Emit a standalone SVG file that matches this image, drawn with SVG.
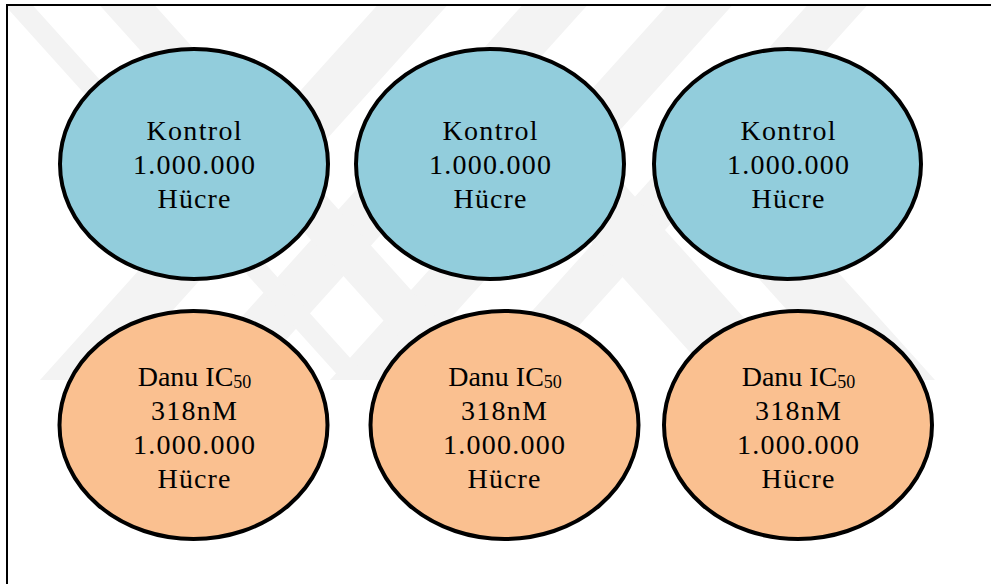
<svg xmlns="http://www.w3.org/2000/svg" width="991" height="584" viewBox="0 0 991 584">
  <style>
    .wm { fill: #f3f3f3; }
    .ctrl { fill: #92CDDC; stroke: #000; stroke-width: 4; }
    .danu { fill: #FAC090; stroke: #000; stroke-width: 4; }
    .lbl { font-family: "Liberation Serif", "DejaVu Serif", serif; font-size: 28px; fill: #000; text-anchor: middle; }
    .sub { font-size: 18px; }
  </style>
  <defs>
    <clipPath id="wmclip"><rect x="7" y="5" width="984" height="375"/></clipPath>
  </defs>
  <rect x="0" y="0" width="991" height="584" fill="#fff"/>
  <g id="watermark" clip-path="url(#wmclip)">
    <polygon class="wm" points="40,380 110,380 452,0 382,0"/>
    <polygon class="wm" points="185,380 250,380 592,0 527,0"/>
    <polygon class="wm" points="330,380 395,380 737,0 672,0"/>
    <polygon class="wm" points="470,380 530,380 872,0 812,0"/>
    <polygon class="wm" points="0,0 28,0 370,380 342,380"/>
    <polygon class="wm" points="95,0 150,0 492,380 437,380"/>
    <polygon class="wm" points="535,180 620,180 800,380 715,380"/>
    <polygon class="wm" points="670,180 755,180 935,380 850,380"/>
  </g>
  <path id="frame" d="M7,584 V5 H991" fill="none" stroke="#000" stroke-width="2"/>
  <g id="connectors"></g>
  <g id="kontrol1">
    <ellipse class="ctrl" cx="194" cy="164" rx="134" ry="115"/>
    <text class="lbl" x="194" y="140" textLength="95" lengthAdjust="spacing">Kontrol</text>
    <text class="lbl" x="194" y="174" textLength="122" lengthAdjust="spacing">1.000.000</text>
    <text class="lbl" x="194" y="208" textLength="73" lengthAdjust="spacing">Hücre</text>
  </g>
  <g id="kontrol2">
    <ellipse class="ctrl" cx="490" cy="164" rx="134" ry="115"/>
    <text class="lbl" x="490" y="140" textLength="95" lengthAdjust="spacing">Kontrol</text>
    <text class="lbl" x="490" y="174" textLength="122" lengthAdjust="spacing">1.000.000</text>
    <text class="lbl" x="490" y="208" textLength="73" lengthAdjust="spacing">Hücre</text>
  </g>
  <g id="kontrol3">
    <ellipse class="ctrl" cx="787.5" cy="164" rx="133.5" ry="115"/>
    <text class="lbl" x="788" y="140" textLength="95" lengthAdjust="spacing">Kontrol</text>
    <text class="lbl" x="788" y="174" textLength="122" lengthAdjust="spacing">1.000.000</text>
    <text class="lbl" x="788" y="208" textLength="73" lengthAdjust="spacing">Hücre</text>
  </g>
  <g id="danu1">
    <ellipse class="danu" cx="193.5" cy="425" rx="134" ry="114"/>
    <text class="lbl" x="194.5" y="386">Danu IC<tspan class="sub" dy="2">50</tspan></text>
    <text class="lbl" x="194" y="420" textLength="86" lengthAdjust="spacing">318nM</text>
    <text class="lbl" x="194" y="454" textLength="122" lengthAdjust="spacing">1.000.000</text>
    <text class="lbl" x="194" y="488" textLength="73" lengthAdjust="spacing">Hücre</text>
  </g>
  <g id="danu2">
    <ellipse class="danu" cx="504.5" cy="425" rx="134" ry="114"/>
    <text class="lbl" x="505" y="386">Danu IC<tspan class="sub" dy="2">50</tspan></text>
    <text class="lbl" x="504" y="420" textLength="86" lengthAdjust="spacing">318nM</text>
    <text class="lbl" x="504" y="454" textLength="122" lengthAdjust="spacing">1.000.000</text>
    <text class="lbl" x="504" y="488" textLength="73" lengthAdjust="spacing">Hücre</text>
  </g>
  <g id="danu3">
    <ellipse class="danu" cx="798" cy="425" rx="134" ry="114"/>
    <text class="lbl" x="798.5" y="386">Danu IC<tspan class="sub" dy="2">50</tspan></text>
    <text class="lbl" x="798" y="420" textLength="86" lengthAdjust="spacing">318nM</text>
    <text class="lbl" x="798" y="454" textLength="122" lengthAdjust="spacing">1.000.000</text>
    <text class="lbl" x="798" y="488" textLength="73" lengthAdjust="spacing">Hücre</text>
  </g>
</svg>
